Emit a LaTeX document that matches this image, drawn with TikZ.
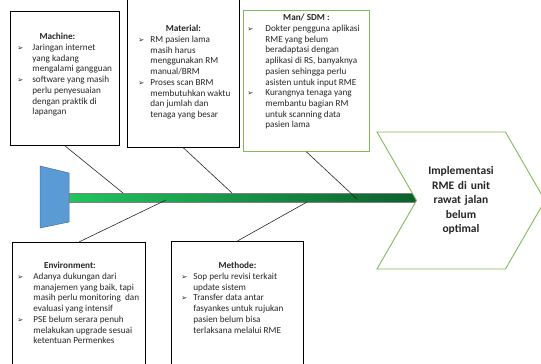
\documentclass[tikz,border=0pt]{standalone}
\usepackage{fontspec}
\setmainfont{Carlito}
\newfontfamily\symfont{DejaVu Sans}
\usetikzlibrary{shapes.symbols}

\definecolor{leafgreen}{RGB}{130,186,90}
\definecolor{spinelight}{RGB}{34,196,96}
\definecolor{spinemid}{RGB}{22,164,74}
\definecolor{spinedark}{RGB}{12,96,44}
\definecolor{tailblue}{RGB}{91,155,213}
\definecolor{tailedge}{RGB}{65,113,156}
\definecolor{ink}{RGB}{38,38,38}

% bullet and hanging indent for the cause lists
\newlength\bulw
\newcommand{\bul}{\makebox[\bulw][l]{\raisebox{0.3pt}{\symfont\fontsize{7.2}{7}\selectfont ➢}}}
\newcommand{\ind}{\hspace*{\bulw}}

\tikzset{
  cause/.style={draw=black, line width=0.8pt, inner sep=0pt, anchor=north west, fill=white,
    text=ink, font=\fontsize{9.2}{10.7}\selectfont},
  bone/.style={draw=ink, line width=0.6pt},
}

\begin{document}
\begin{tikzpicture}[x=1pt,y=-1pt]
  \useasboundingbox (0,0) rectangle (541,364);
  \clip (0,0) rectangle (541,364);

  % head and spine
  \filldraw[fill=tailblue, draw=tailedge, line width=0.5pt] (40,166) -- (69,173) -- (69,222) -- (40,228) -- cycle;
  \shade[left color=spinelight, middle color=spinemid, right color=spinedark, draw=gray, line width=0.5pt]
    (69,193) rectangle (418,202);

  \node[signal, signal from=west, signal to=east, signal pointer angle=120, draw=leafgreen,
    line width=0.9pt, fill=white, minimum width=168pt, minimum height=137pt, text width=72pt,
    align=center, text=ink, font=\bfseries\fontsize{11.5}{14.4}\selectfont] (effect) at (461,200.5)
    {Implementasi\\ RME di unit\\ rawat jalan\\ belum\\ optimal};

  % causes above the spine
  \node[cause] (machine) at (10,11) {\begin{minipage}[t][134pt][t]{109pt}
    \raggedright\leftskip=7pt\setlength\bulw{15pt}
    \vspace*{22pt}
    {\centering\hspace*{-15pt}\textbf{Machine:}\par}
    \bul Jaringan internet\\ \ind yang kadang\\ \ind mengalami gangguan\\
    \bul software yang masih\\ \ind perlu penyesuaian\\ \ind dengan praktik di\\ \ind lapangan
  \end{minipage}};

  \node[cause] (material) at (127,-5) {\begin{minipage}[t][152pt][t]{112pt}
    \raggedright\leftskip=11pt\setlength\bulw{12pt}
    \vspace*{30pt}
    {\centering\textbf{Material:}\par}
    \bul RM pasien lama\\ \ind masih harus\\ \ind menggunakan RM\\ \ind manual/BRM\\
    \bul Proses scan BRM\\ \ind membutuhkan waktu\\ \ind dan jumlah dan\\ \ind tenaga yang besar
  \end{minipage}};

  \node[cause, draw=leafgreen] (man) at (243,10) {\begin{minipage}[t][141pt][t]{126pt}
    \raggedright\leftskip=4pt\setlength\bulw{18pt}
    \vspace*{4pt}
    {\centering\textbf{Man/ SDM :}\par}
    \bul Dokter pengguna aplikasi\\ \ind RME yang belum\\ \ind beradaptasi dengan\\
    \ind aplikasi di RS, banyaknya\\ \ind pasien sehingga perlu\\ \ind asisten untuk input RME\\
    \bul Kurangnya tenaga yang\\ \ind membantu  bagian RM\\ \ind untuk scanning data\\ \ind pasien lama
  \end{minipage}};

  % causes below the spine
  \node[cause] (environment) at (12,242) {\begin{minipage}[t][130pt][t]{133pt}
    \raggedright\leftskip=5pt\setlength\bulw{16pt}
    \vspace*{20pt}
    {\centering\hspace*{-18pt}\textbf{Environment:}\par}
    \bul Adanya dukungan dari\\ \ind manajemen yang baik, tapi\\ \ind masih perlu monitoring~ dan\\
    \ind evaluasi yang intensif\\
    \bul PSE belum serara penuh\\ \ind melakukan upgrade sesuai\\ \ind ketentuan Permenkes
  \end{minipage}};

  \node[cause] (methode) at (171,241) {\begin{minipage}[t][130pt][t]{132pt}
    \raggedright\leftskip=10pt\setlength\bulw{12pt}
    \vspace*{21pt}
    {\centering\textbf{Methode:}\par}
    \bul Sop perlu revisi terkait\\ \ind update sistem\\
    \bul Transfer data antar\\ \ind fasyankes untuk rujukan\\ \ind pasien belum bisa\\ \ind terlaksana melalui RME
  \end{minipage}};

  % bones
  \coordinate (jmachine) at (123,193);
  \coordinate (jmaterial) at (232,193);
  \coordinate (jman) at (357,199);
  \coordinate (jenv) at (166,200);
  \coordinate (jmeth) at (307,202);
  \draw[bone] (machine.south) -- (jmachine);
  \draw[bone] (material.south) -- (jmaterial);
  \draw[bone] (man.south) -- (jman);
  \draw[bone] (environment.north) -- (jenv);
  \draw[bone] (methode.north) -- (jmeth);
\end{tikzpicture}
\end{document}
